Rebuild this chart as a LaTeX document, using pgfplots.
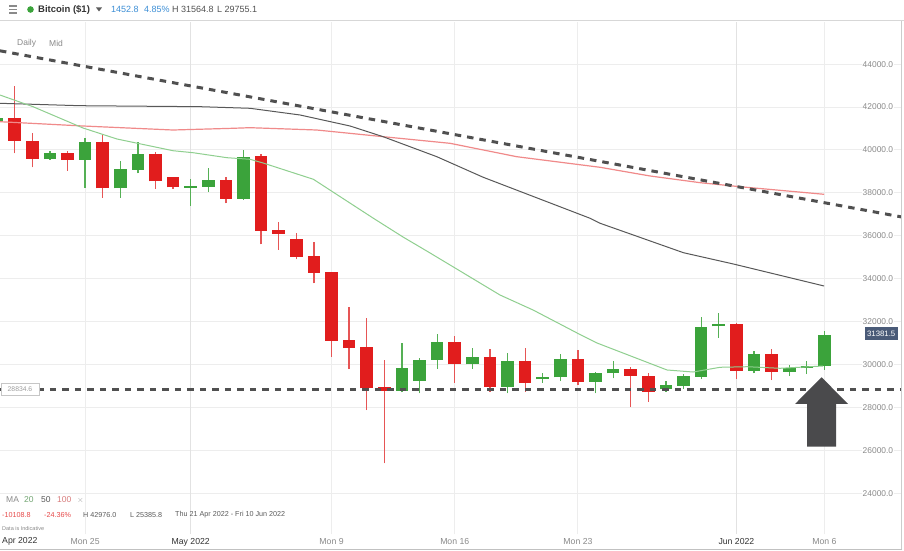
\documentclass[border=0pt]{standalone}
\usepackage{fontspec}
\setmainfont{Liberation Sans}
\usepackage{pgfplots}
\usepackage{pgfplotstable}
\pgfplotsset{compat=1.18}

\definecolor{CandleRed}{HTML}{E11D1D}
\definecolor{CandleGreen}{HTML}{3BA33B}
\definecolor{WickRed}{HTML}{E65555}
\definecolor{WickGreen}{HTML}{55B055}
\definecolor{MaGreen}{HTML}{8FCF8F}
\definecolor{MaDark}{HTML}{585858}
\definecolor{MaRed}{HTML}{F08A8A}
\definecolor{DashGray}{HTML}{505050}
\definecolor{ArrowGray}{HTML}{4A4A4C}
\definecolor{GridGray}{HTML}{EDEDED}
\definecolor{MonthGrid}{HTML}{E2E2E2}
\definecolor{TagBlue}{HTML}{4A5B78}
\definecolor{HeadBlue}{HTML}{3D8FD6}
\definecolor{TxtDark}{HTML}{333333}
\definecolor{TxtGray}{HTML}{8A8A8A}

% day index: 0 = Thu 21 Apr 2022
\pgfplotstableread{
d o h l c
-1 41370 41600 41150 41478
2 39580 39967 39534 39846
4 39534 40545 38242 40359
6 38214 39487 37776 39100
7 39068 40359 38914 39800
10 38243 38648 37403 38322
11 38289 39147 38042 38601
13 37716 40000 37669 39688
22 28765 31016 28704 29823
23 29230 30289 28658 30210
24 30210 31422 29802 31063
26 30008 30755 29802 30334
28 28965 30522 28658 30163
30 29324 29616 29152 29400
31 29400 30475 29230 30257
33 29198 29666 28658 29589
34 29589 30179 29356 29775
37 28857 29231 28733 29030
38 29000 29560 28858 29467
39 29432 32200 29324 31733
40 31780 32387 31251 31888
42 29711 30643 29589 30490
44 29664 29977 29464 29821
45 29821 30163 29557 29929
46 29929 31565 29755 31381.5
}\greenc

\pgfplotstableread{
d o h l c
0 41478 42976 39846 40420
1 40420 40778 39193 39594
3 39846 39967 39035 39534
5 40359 40746 37776 38214
8 39800 39893 38196 38541
9 38741 38741 38196 38261
12 38601 38755 37515 37716
14 39720 39814 35604 36238
15 36270 36657 35338 36084
16 35837 36117 34904 35026
17 35058 35725 33786 34280
18 34298 34298 30364 31110
19 31142 32695 29790 30769
20 30802 32182 27879 28890
21 28937 30210 25386 28765
25 31063 31329 29152 30008
27 30334 30708 28732 28965
29 30163 30755 28732 29152
32 30257 30676 29044 29198
35 29775 29900 28034 29478
36 29478 29589 28267 28733
41 31888 31950 29324 29711
43 30490 30708 29277 29664
}\redc

\begin{document}
\begin{tikzpicture}
\path[use as bounding box] (0pt,0pt) rectangle (904pt,550pt);
\fill[white] (0pt,0pt) rectangle (904pt,550pt);

\begin{axis}[
  at={(0pt,16pt)}, anchor=south west,
  scale only axis, width=901.5pt, height=512pt,
  xmin=-0.835, xmax=50.38, ymin=22098, ymax=45967,
  axis line style={draw=none},
  major tick length=0pt,
  xtick={4,18,25,32,46},
  xticklabels={Mon 25,Mon 9,Mon 16,Mon 23,Mon 6},
  extra x ticks={10,41},
  extra x tick labels={May 2022,Jun 2022},
  extra x tick style={grid style={MonthGrid, line width=1pt},
    xticklabel style={text=TxtDark}},
  xticklabel style={font=\fontsize{8.7}{10}\selectfont, text=TxtGray, yshift=-1pt},
  ytick={24000,26000,...,44000},
  yticklabel pos=right,
  scaled y ticks=false,
  yticklabel style={anchor=east, xshift=-7pt, fill=white, inner sep=1.2pt,
    font=\fontsize{8.4}{9}\selectfont, text=TxtGray,
    /pgf/number format/.cd, fixed, fixed zerofill, precision=1,
    1000 sep={}, assume math mode=true},
  xmajorgrids, ymajorgrids,
  grid style={GridGray, line width=1pt},
]
% wicks
\addplot[draw=none, mark=none, forget plot,
  error bars/.cd, y dir=plus, y explicit, error mark=none,
  error bar style={draw=WickGreen, line width=1.3pt}]
  table[x=d, y=l, y error plus expr=\thisrow{h}-\thisrow{l}] {\greenc};
\addplot[draw=none, mark=none, forget plot,
  error bars/.cd, y dir=plus, y explicit, error mark=none,
  error bar style={draw=WickRed, line width=1.3pt}]
  table[x=d, y=l, y error plus expr=\thisrow{h}-\thisrow{l}] {\redc};
% bodies
\addplot[draw=none, mark=none, forget plot,
  error bars/.cd, y dir=plus, y explicit, error mark=none,
  error bar style={draw=CandleGreen, line width=12.6pt}]
  table[x=d, y=o, y error plus expr=\thisrow{c}-\thisrow{o}] {\greenc};
\addplot[draw=none, mark=none, forget plot,
  error bars/.cd, y dir=plus, y explicit, error mark=none,
  error bar style={draw=CandleRed, line width=12.6pt}]
  table[x=d, y=c, y error plus expr=\thisrow{o}-\thisrow{c}] {\redc};

% MA 100
\addplot[MaRed, line width=1.2pt] coordinates {
(-0.84,41319) (3.88,41119) (8.99,40932) (12.4,41012) (13.37,41040)
(17.16,40932) (20.94,40620) (24.73,40312) (28.52,39688) (33.26,39193)
(36.1,38788) (38.94,38476) (41.2,38289) (45.98,37935)};
% MA 50
\addplot[MaDark, line width=1pt] coordinates {
(-0.84,42177) (3.71,42065) (10.53,42019) (13.37,41944) (16.21,41632)
(19.05,41119) (20.93,40620) (23.98,39688) (26.62,38727) (32.69,36816)
(33.26,36583) (37.99,35212) (40.83,34685) (45.98,33660)};
% MA 20
\addplot[MaGreen, line width=1pt] coordinates {
(-0.84,42564) (1.04,42019) (3.88,41026) (5.81,40513) (8.99,39967)
(10.13,39874) (12.06,39641) (13.37,39566) (14.11,39394) (16.97,38634)
(20.38,36816) (22.06,35944) (23.6,35198) (27.57,33240)
(29.45,32540) (31.95,31469) (33.08,31003) (37.06,29744) (38.54,29650)
(40.07,29870) (41.61,29897) (43.48,29823) (45.93,29930)};

% trend line and support line
\addplot[DashGray, line width=3pt, dash pattern=on 6.5pt off 6pt]
  coordinates {(-0.84,44625) (50.38,36880)};
\addplot[DashGray, line width=3pt, dash pattern=on 6.5pt off 6pt]
  coordinates {(-0.84,28834.6) (50.38,28834.6)};

% arrow
\addplot[fill=ArrowGray, draw=none] coordinates {
(44.33,28159) (45.84,29403) (47.35,28159) (46.66,28159)
(46.66,26168) (45.02,26168) (45.02,28159)} -- cycle;
\end{axis}

% frame lines
\draw[GridGray!80!gray, line width=1pt] (0pt,529pt) -- (904pt,529pt);
\draw[GridGray!70!gray, line width=1pt] (901.5pt,0pt) -- (901.5pt,529pt);
\draw[GridGray!60!gray, line width=1pt] (0pt,1pt) -- (901.5pt,1pt);

% header
\foreach \yy in {544,540.5,537} \draw[TxtGray, line width=1.2pt] (9pt,\yy pt) -- (17pt,\yy pt);
\fill[CandleGreen] (30.5pt,540.5pt) circle (3.3pt);
\node[anchor=west, inner sep=0pt, font=\fontsize{9.5}{11}\selectfont\bfseries, text=TxtDark]
  at (38pt,540.5pt) {Bitcoin (\$1)};
\fill[TxtDark!80] (96pt,542.5pt) -- (102pt,542.5pt) -- (99pt,538.5pt) -- cycle;
\node[anchor=west, inner sep=0pt, font=\fontsize{9}{11}\selectfont, text=HeadBlue]
  at (111pt,540.5pt) {1452.8};
\node[anchor=west, inner sep=0pt, font=\fontsize{9}{11}\selectfont, text=HeadBlue]
  at (144pt,540.5pt) {4.85\%};
\node[anchor=west, inner sep=0pt, font=\fontsize{9}{11}\selectfont, text=TxtDark!85]
  at (172pt,540.5pt) {H 31564.8};
\node[anchor=west, inner sep=0pt, font=\fontsize{9}{11}\selectfont, text=TxtDark!85]
  at (217pt,540.5pt) {L 29755.1};

\node[anchor=west, inner sep=0pt, font=\fontsize{8.5}{10}\selectfont, text=TxtGray]
  at (17pt,506.7pt) {Daily};
\node[anchor=west, inner sep=0pt, font=\fontsize{8.5}{10}\selectfont, text=TxtGray]
  at (49pt,506.7pt) {Mid};

% price tags
\node[anchor=west, draw=gray!45, fill=white, inner xsep=6.5pt, minimum height=12pt,
  font=\fontsize{6.8}{7}\selectfont, text=TxtGray!85] at (1pt,161pt) {28834.6};
\node[anchor=east, fill=TagBlue, inner xsep=2.5pt, minimum height=13pt,
  font=\fontsize{7.8}{8}\selectfont, text=white] at (898pt,216.5pt) {31381.5};

% bottom-left legend
\node[anchor=west, inner sep=0pt, font=\fontsize{8.5}{10}\selectfont, text=TxtGray] at (6pt,50pt) {MA};
\node[anchor=west, inner sep=0pt, font=\fontsize{8.5}{10}\selectfont, text=MaGreen!80!black] at (24pt,50pt) {20};
\node[anchor=west, inner sep=0pt, font=\fontsize{8.5}{10}\selectfont, text=MaDark] at (41pt,50pt) {50};
\node[anchor=west, inner sep=0pt, font=\fontsize{8.5}{10}\selectfont, text=MaRed!90!black] at (57pt,50pt) {100};
\node[anchor=west, inner sep=0pt, font=\fontsize{8.5}{10}\selectfont, text=TxtGray!80] at (77pt,50pt) {$\times$};
\node[anchor=west, inner sep=0pt, font=\fontsize{7.2}{8}\selectfont, text=CandleRed!80] at (2pt,35pt) {-10108.8};
\node[anchor=west, inner sep=0pt, font=\fontsize{7.2}{8}\selectfont, text=CandleRed!80] at (44pt,35pt) {-24.36\%};
\node[anchor=west, inner sep=0pt, font=\fontsize{7.2}{8}\selectfont, text=TxtDark!80] at (83pt,35pt) {H 42976.0};
\node[anchor=west, inner sep=0pt, font=\fontsize{7.2}{8}\selectfont, text=TxtDark!80] at (130pt,35pt) {L 25385.8};
\node[anchor=west, inner sep=0pt, font=\fontsize{7.2}{8}\selectfont, text=TxtDark!80] at (175pt,35pt) {Thu 21 Apr 2022 - Fri 10 Jun 2022};
\node[anchor=west, inner sep=0pt, font=\fontsize{5.5}{6}\selectfont, text=TxtGray] at (2pt,21pt) {Data is Indicative};

% first month label
\node[anchor=west, inner sep=0pt, font=\fontsize{8.7}{10}\selectfont, text=TxtDark] at (2pt,8.5pt) {Apr 2022};
\end{tikzpicture}
\end{document}
